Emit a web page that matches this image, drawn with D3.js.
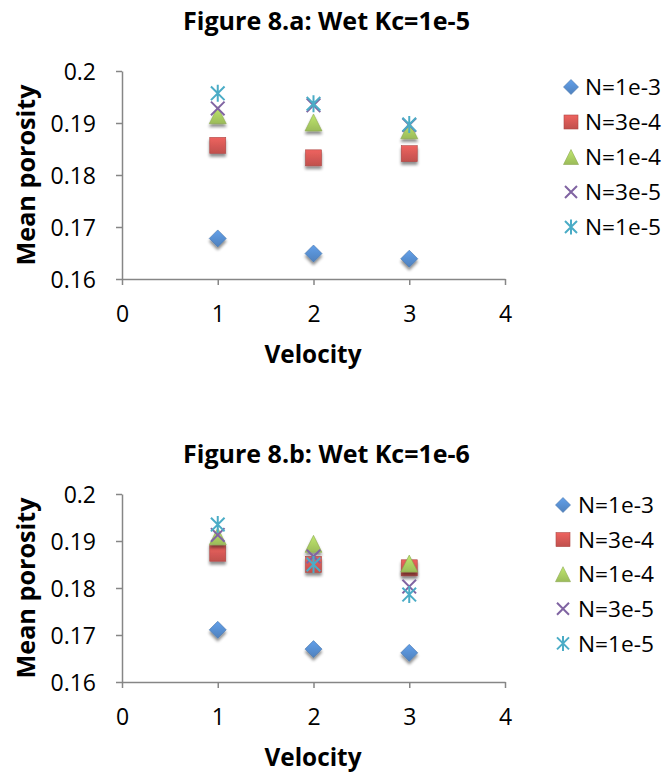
<!DOCTYPE html>
<html><head><meta charset="utf-8">
<script src="https://cdn.jsdelivr.net/npm/d3@7"></script>
<style>body{margin:0;background:#fff;}svg{display:block;font-family:"Open Sans",sans-serif;}</style>
</head><body>
<svg id="c" width="665" height="774"></svg>
<script>
const velocities = [1, 2, 3];
const seriesNames = ["N=1e-3", "N=3e-4", "N=1e-4", "N=3e-5", "N=1e-5"];
const seriesSymbols = ["diamond", "square", "triangle", "x", "star"];
const seriesColors = ["#4F81BD", "#C0504D", "#9BBB59", "#8064A2", "#4BACC6"];
const xTicks = [0, 1, 2, 3, 4];
const yTicks = [0.16, 0.17, 0.18, 0.19, 0.2];

const chartA_title = "Figure 8.a: Wet Kc=1e-5";
const chartA_1e3 = [0.1678, 0.1649, 0.1639];
const chartA_3e4 = [0.1857, 0.1833, 0.1841];
const chartA_1e4 = [0.1915, 0.1901, 0.1886];
const chartA_3e5 = [0.1928, 0.1934, 0.1896];
const chartA_1e5 = [0.1957, 0.1937, 0.1897];

const chartB_title = "Figure 8.b: Wet Kc=1e-6";
const chartB_1e3 = [0.1711, 0.1670, 0.1662];
const chartB_3e4 = [0.1874, 0.1850, 0.1843];
const chartB_1e4 = [0.1910, 0.1894, 0.1852];
const chartB_3e5 = [0.1913, 0.1867, 0.1803];
const chartB_1e5 = [0.1935, 0.1850, 0.1786];

const svg = d3.select("#c");
const defs = svg.append("defs");
const f = defs.append("filter").attr("id","sh").attr("x","-50%").attr("y","-50%").attr("width","200%").attr("height","200%");
f.append("feGaussianBlur").attr("in","SourceAlpha").attr("stdDeviation",1.6).attr("result","b");
f.append("feOffset").attr("in","b").attr("dx",0).attr("dy",2.5).attr("result","o");
f.append("feComponentTransfer").attr("in","o").attr("result","o2").append("feFuncA").attr("type","linear").attr("slope",0.45);
const fm = f.append("feMerge"); fm.append("feMergeNode").attr("in","o2"); fm.append("feMergeNode").attr("in","SourceGraphic");
seriesColors.forEach((c,i)=>{
  const g = defs.append("linearGradient").attr("id","g"+i).attr("x1",0).attr("y1",0).attr("x2",0).attr("y2",1);
  g.append("stop").attr("offset","0%").attr("stop-color",d3.color(c).brighter(0.6));
  g.append("stop").attr("offset","100%").attr("stop-color",c);
});

function fit(sel, w) {
  const fs = parseFloat(sel.attr("font-size"));
  const len = sel.node().getComputedTextLength();
  if (len > 0) sel.attr("font-size", (fs * w / len).toFixed(2));
  return sel;
}

function marker(g, sym, i, size, shadow) {
  const c = seriesColors[i], h = size/2;
  let el;
  if (sym === "diamond") {
    el = g.append("path").attr("d",`M0,${-h}L${h},0L0,${h}L${-h},0Z`);
  } else if (sym === "square") {
    el = g.append("rect").attr("x",-h+0.5).attr("y",-h+0.5).attr("width",size-1).attr("height",size-1);
  } else if (sym === "triangle") {
    el = g.append("path").attr("d",`M0,${-h}L${h},${h}L${-h},${h}Z`);
  } else if (sym === "x") {
    const a = h*0.8;
    g.append("path").attr("d",`M${-a},${-a}L${a},${a}M${-a},${a}L${a},${-a}`).attr("stroke",c).attr("stroke-width",2).attr("fill","none");
    return;
  } else {
    const a = h*0.8;
    g.append("path").attr("d",`M${-a},${-a}L${a},${a}M${-a},${a}L${a},${-a}M0,${-h}L0,${h}`).attr("stroke",c).attr("stroke-width",2).attr("fill","none");
    return;
  }
  el.attr("fill",`url(#g${i})`).attr("stroke",d3.color(c).darker(0.3)).attr("stroke-width",0.6);
  if (shadow) el.attr("filter","url(#sh)");
}

function drawChart(titleY, title, data, plotTop, plotBottom, legendY, legendStep, legendMX, legendTX) {
  const x = d3.scaleLinear().domain([0,4]).range([122,505]);
  const y = d3.scaleLinear().domain([0.16,0.2]).range([plotBottom, plotTop]);
  const g = svg.append("g");
  fit(g.append("text").attr("x",326.5).attr("y",titleY).attr("text-anchor","middle").attr("font-weight","bold").attr("font-size",21).attr("fill","#000").text(title), 287);
  const ya = g.append("g").attr("transform","translate(122,0)").call(d3.axisLeft(y).tickValues(yTicks).tickFormat(d3.format("")).tickSize(6).tickSizeOuter(0));
  const xa = g.append("g").attr("transform",`translate(0,${plotBottom})`).call(d3.axisBottom(x).tickValues(xTicks).tickFormat(d3.format("d")).tickSize(6).tickSizeOuter(0));
  [ya,xa].forEach(a=>{
    a.select(".domain").attr("stroke","#868686").attr("stroke-width",1.5);
    a.selectAll(".tick line").attr("stroke","#868686").attr("stroke-width",1.5);
    a.selectAll(".tick text").attr("font-size",23).attr("fill","#000").attr("font-family","'Open Sans',sans-serif");
  });
  ya.selectAll(".tick text").attr("x",-26).attr("dy","0.36em");
  xa.selectAll(".tick text").attr("y",43).attr("dy",0);
  fit(g.append("text").attr("x",313).attr("y",plotBottom+84).attr("text-anchor","middle").attr("font-weight","bold").attr("font-size",24).text("Velocity"), 97);
  fit(g.append("text").attr("transform",`translate(35,${(plotTop+plotBottom)/2}) rotate(-90)`).attr("text-anchor","middle").attr("font-weight","bold").attr("font-size",25).text("Mean porosity"), 181);
  data.forEach((vals,i)=>{
    vals.forEach((v,j)=>{
      const m = g.append("g").attr("transform",`translate(${x(velocities[j])},${y(v)})`);
      marker(m, seriesSymbols[i], i, 17, true);
    });
  });
  seriesNames.forEach((n,i)=>{
    const ly = legendY + i*legendStep;
    const m = g.append("g").attr("transform",`translate(${legendMX},${ly})`);
    marker(m, seriesSymbols[i], i, 15, false);
    fit(g.append("text").attr("x",legendTX).attr("y",ly).attr("dy","0.36em").attr("font-size",21).text(n), 76);
  });
}

drawChart(30, chartA_title, [chartA_1e3, chartA_3e4, chartA_1e4, chartA_3e5, chartA_1e5], 71, 279, 87, 35, 571, 585);
drawChart(463, chartB_title, [chartB_1e3, chartB_3e4, chartB_1e4, chartB_3e5, chartB_1e5], 494, 682, 505, 34.6, 563, 578);
</script>
</body></html>
